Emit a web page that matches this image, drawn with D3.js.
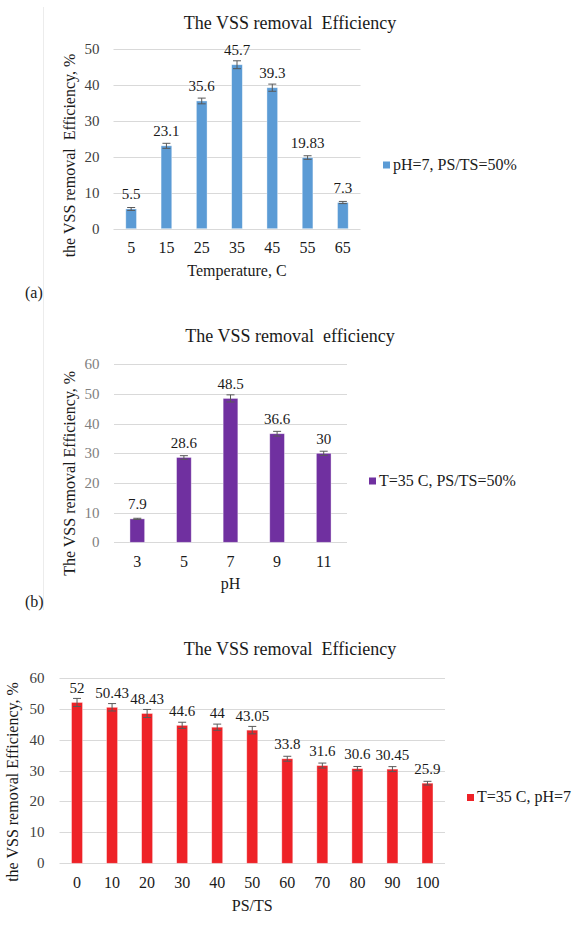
<!DOCTYPE html>
<html lang="en">
  <head>
    <meta charset="UTF-8" />
    <title>The VSS removal Efficiency</title>
    <script src="https://d3js.org/d3.v7.min.js"></script>
    <style>
      body {
        margin: 0;
        background: #fff;
      }
      svg text {
        font-family: "Liberation Serif", "Times New Roman", serif;
        white-space: pre;
      }
    </style>
  </head>
  <body>
    <svg id="chart"></svg>
    <script>
      // (a) temperature
      const tempCats = ["5", "15", "25", "35", "45", "55", "65"];
      const tempValues = [5.5, 23.1, 35.6, 45.7, 39.3, 19.83, 7.3];
      const tempErrors = [0.4, 0.7, 0.8, 1.1, 1.0, 0.5, 0.3];
      const tempLabels = ["5.5", "23.1", "35.6", "45.7", "39.3", "19.83", "7.3"];
      const tempTicks = [0, 10, 20, 30, 40, 50];

      // (b) pH
      const phCats = ["3", "5", "7", "9", "11"];
      const phValues = [7.9, 28.6, 48.5, 36.6, 30];
      const phErrors = [0.2, 0.6, 1.2, 0.8, 0.7];
      const phLabels = ["7.9", "28.6", "48.5", "36.6", "30"];
      const phTicks = [0, 10, 20, 30, 40, 50, 60];

      // (c) PS/TS
      const psCats = ["0", "10", "20", "30", "40", "50", "60", "70", "80", "90", "100"];
      const psValues = [52, 50.43, 48.43, 44.6, 44, 43.05, 33.8, 31.6, 30.6, 30.45, 25.9];
      const psErrors = [1.3, 1.2, 1.3, 1.0, 1.0, 1.2, 0.8, 0.8, 0.7, 0.8, 0.6];
      const psLabels = ["52", "50.43", "48.43", "44.6", "44", "43.05", "33.8", "31.6", "30.6", "30.45", "25.9"];
      const psTicks = [0, 10, 20, 30, 40, 50, 60];

      const WIDTH = 576;
      const HEIGHT = 929;
      const TEXT = "#1a1a1a";

      const svg = d3.select("#chart").attr("width", WIDTH).attr("height", HEIGHT);

      // faint frame line on the left of (a) and (b)
      svg.append("line")
        .attr("x1", 43.5).attr("x2", 43.5)
        .attr("y1", 7).attr("y2", 610)
        .attr("stroke", "#ececec");

      function drawChart(opt) {
        const g = svg.append("g");
        const x = d3.scaleBand().domain(opt.cats).range([opt.left, opt.right]);
        const y = d3.scaleLinear().domain([0, opt.max]).range([opt.bottom, opt.top]);

        // title
        g.append("text")
          .attr("x", 290).attr("y", opt.titleY)
          .attr("text-anchor", "middle")
          .style("font-size", "18px")
          .attr("fill", TEXT)
          .text(opt.title);

        // gridlines
        g.append("g").selectAll("line").data(opt.ticks).join("line")
          .attr("x1", opt.left).attr("x2", opt.right)
          .attr("y1", (d) => Math.round(y(d)) + 0.5)
          .attr("y2", (d) => Math.round(y(d)) + 0.5)
          .attr("stroke", "#d9d9d9");

        // y tick labels
        g.append("g").selectAll("text").data(opt.ticks).join("text")
          .attr("x", opt.tickX).attr("y", (d) => y(d) + 5)
          .attr("text-anchor", "end")
          .style("font-size", "15px")
          .attr("fill", opt.tickColor)
          .text((d) => d);

        // bars
        g.append("g").selectAll("rect").data(opt.values).join("rect")
          .attr("x", (d, i) => x(opt.cats[i]) + (x.bandwidth() - opt.barW) / 2)
          .attr("y", (d) => y(d))
          .attr("width", opt.barW)
          .attr("height", (d) => y(0) - y(d))
          .attr("fill", opt.color)
          .attr("stroke", "#fff")
          .attr("stroke-opacity", 0.5)
          .attr("stroke-width", 0.75);

        // error bars
        const eb = g.append("g").attr("stroke", "#595959").attr("stroke-width", 1);
        opt.values.forEach((v, i) => {
          const cx = x(opt.cats[i]) + x.bandwidth() / 2;
          const e = opt.errors[i];
          eb.append("line").attr("x1", cx).attr("x2", cx).attr("y1", y(v - e)).attr("y2", y(v + e));
          eb.append("line").attr("x1", cx - 4).attr("x2", cx + 4).attr("y1", y(v - e)).attr("y2", y(v - e));
          eb.append("line").attr("x1", cx - 4).attr("x2", cx + 4).attr("y1", y(v + e)).attr("y2", y(v + e));
        });

        // data labels
        g.append("g").selectAll("text").data(opt.values).join("text")
          .attr("x", (d, i) => x(opt.cats[i]) + x.bandwidth() / 2)
          .attr("y", (d) => y(d) - 9.5)
          .attr("text-anchor", "middle")
          .style("font-size", "15px")
          .attr("fill", TEXT)
          .text((d, i) => opt.labels[i]);

        // category labels
        g.append("g").selectAll("text").data(opt.cats).join("text")
          .attr("x", (d) => x(d) + x.bandwidth() / 2)
          .attr("y", opt.catY)
          .attr("text-anchor", "middle")
          .style("font-size", "16px")
          .attr("fill", TEXT)
          .text((d) => d);

        // x axis title
        g.append("text")
          .attr("x", (opt.left + opt.right) / 2).attr("y", opt.xTitleY)
          .attr("text-anchor", "middle")
          .style("font-size", "16px")
          .attr("fill", TEXT)
          .text(opt.xTitle);

        // y axis title
        g.append("text")
          .attr("transform", `translate(${opt.yTitleX}, ${opt.yTitleY}) rotate(-90)`)
          .attr("text-anchor", "middle")
          .style("font-size", "16px")
          .attr("fill", TEXT)
          .text(opt.yTitle);

        // legend
        g.append("rect")
          .attr("x", opt.legendX).attr("y", opt.legendY - 8)
          .attr("width", 7).attr("height", 7)
          .attr("fill", opt.color);
        g.append("text")
          .attr("x", opt.legendX + 10).attr("y", opt.legendY)
          .style("font-size", "16px")
          .attr("fill", TEXT)
          .text(opt.legend);

        if (opt.tag) {
          g.append("text")
            .attr("x", 25).attr("y", opt.tagY)
            .style("font-size", "16px")
            .attr("fill", TEXT)
            .text(opt.tag);
        }
      }

      drawChart({
        cats: tempCats, values: tempValues, errors: tempErrors, labels: tempLabels,
        ticks: tempTicks, max: 50,
        left: 113.5, right: 360.5, top: 49.3, bottom: 228.7, barW: 10.7,
        color: "#5b9bd5", tickColor: "#404040", tickX: 99.5,
        title: "The VSS removal  Efficiency", titleY: 28.5,
        catY: 252.5, xTitle: "Temperature, C", xTitleY: 275.5,
        yTitle: "the VSS removal  Efficiency, %", yTitleX: 75, yTitleY: 155.5,
        legend: "pH=7, PS/TS=50%", legendX: 383, legendY: 169.5,
        tag: "(a)", tagY: 298
      });

      drawChart({
        cats: phCats, values: phValues, errors: phErrors, labels: phLabels,
        ticks: phTicks, max: 60,
        left: 114, right: 347, top: 364.3, bottom: 542.3, barW: 14.7,
        color: "#7030a0", tickColor: "#808080", tickX: 99.5,
        title: "The VSS removal  efficiency", titleY: 341.5,
        catY: 566.7, xTitle: "pH", xTitleY: 589,
        yTitle: "The VSS removal Efficiency, %", yTitleX: 75, yTitleY: 473.3,
        legend: "T=35 C, PS/TS=50%", legendX: 369, legendY: 485.5,
        tag: "(b)", tagY: 607
      });

      drawChart({
        cats: psCats, values: psValues, errors: psErrors, labels: psLabels,
        ticks: psTicks, max: 60,
        left: 59.5, right: 445, top: 677.7, bottom: 863.3, barW: 11,
        color: "#ee2227", tickColor: "#404040", tickX: 44.5,
        title: "The VSS removal  Efficiency", titleY: 655,
        catY: 888.3, xTitle: "PS/TS", xTitleY: 910.5,
        yTitle: "the VSS removal Efficiency, %", yTitleX: 18, yTitleY: 782,
        legend: "T=35 C, pH=7", legendX: 467, legendY: 802
      });
    </script>
  </body>
</html>
